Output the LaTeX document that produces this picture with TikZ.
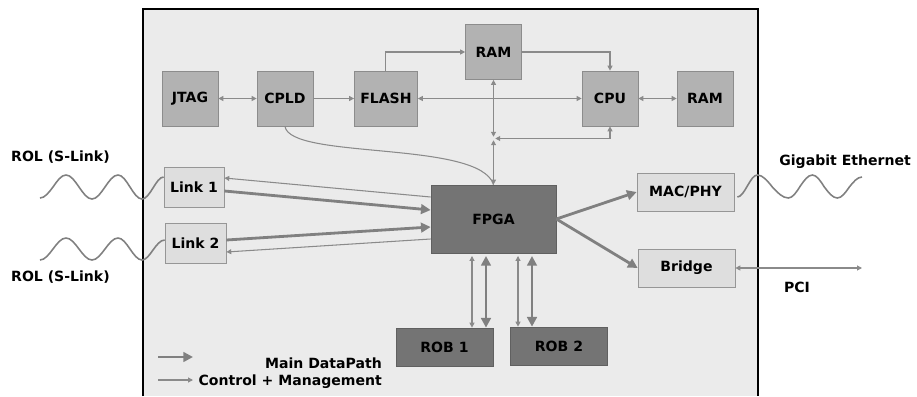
\documentclass[tikz,border=0pt]{standalone}
\usepackage{fontspec}
\setmainfont{DejaVu Sans}
\usepackage{tikz}
\usetikzlibrary{arrows.meta,positioning}

\definecolor{boardfill}{RGB}{235,235,235}
\definecolor{chipfill}{RGB}{178,178,178}
\definecolor{chipline}{RGB}{140,140,140}
\definecolor{portfill}{RGB}{222,222,222}
\definecolor{portline}{RGB}{150,150,150}
\definecolor{corefill}{RGB}{116,116,116}
\definecolor{coreline}{RGB}{96,96,96}
\definecolor{mainline}{RGB}{128,128,128}
\definecolor{ctrlline}{RGB}{138,138,138}

\begin{document}
\begin{tikzpicture}[x=0.02cm,y=-0.02cm,node distance=1.9cm,
font=\fontsize{8}{9.6}\selectfont\bfseries,
chip/.style={
rectangle,
draw=chipline,
fill=chipfill,
minimum width=1.12cm,
minimum height=1.1cm
},
port/.style={
rectangle,
draw=portline,
fill=portfill,
minimum width=1.94cm,
minimum height=0.76cm
},
core/.style={
rectangle,
draw=coreline,
fill=corefill,
minimum width=1.94cm,
minimum height=0.76cm
},
ctrl/.style={->,>={Triangle[length=2.8pt,width=2.8pt]},line width=0.6pt,color=ctrlline},
main/.style={->,>={Triangle[length=5.5pt,width=5.5pt]},line width=1.6pt,color=mainline},
wave/.style={line width=0.9pt,color=mainline}]

\useasboundingbox (0,0) rectangle (917,396);
\fill[boardfill] (143,9) rectangle (758,396);
\draw[line width=1.3pt] (143,396) -- (143,9) -- (758,9) -- (758,396);

\node (jtag) [chip] at (190,98.5) {JTAG};
\node (cpld) [chip,right of=jtag] {CPLD};
\node (flash) [chip,right of=cpld,node distance=2.02cm] {FLASH};
\node (ram1) [chip] at (493.5,52) {RAM};
\node (cpu) [chip] at (610,98.5) {CPU};
\node (ram2) [chip,right of=cpu] {RAM};
\node (link1) [port,minimum width=1.2cm,minimum height=0.8cm] at (194,187) {Link 1};
\node (link2) [port,minimum width=1.22cm,minimum height=0.8cm] at (195.5,243) {Link 2};
\node (fpga) [core,minimum width=2.5cm,minimum height=1.36cm] at (493.5,219) {FPGA};
\node (macphy) [port] at (685.5,192) {MAC/PHY};
\node (bridge) [port] at (686.5,268) {Bridge};
\node (rob1) [core] at (444.5,347) {ROB 1};
\node (rob2) [core] at (559,346) {ROB 2};

\node (rolA) [anchor=west] at (5,157) {ROL (S-Link)};
\node (rolB) [anchor=west] at (5,277) {ROL (S-Link)};
\node (gbe) [anchor=east] at (917,162) {Gigabit Ethernet};
\node (pci) at (797,287) {PCI};

\coordinate (bus) at (493.5,138.5);
\coordinate (rolAend) at (40,198);
\coordinate (rolBend) at (40,260);
\coordinate (gbeend) at (862,177);
\coordinate (pciend) at (862,268);
\coordinate (r1a) at ([xshift=0.55cm]rob1.north);
\coordinate (r1b) at ([xshift=0.83cm]rob1.north);
\coordinate (r2a) at ([xshift=-0.82cm]rob2.north);
\coordinate (r2b) at ([xshift=-0.54cm]rob2.north);

\draw[ctrl,<->] (jtag) -- (cpld);
\draw[ctrl] (cpld) -- (flash);
\draw[ctrl] (flash.north) |- (ram1);
\draw[ctrl] (ram1) -| (cpu);
\draw[ctrl,<->] (flash) -- (cpu);
\draw[ctrl,<->] (cpu) -- (ram2);
\draw[ctrl,<->,shorten >=1pt] (ram1) -- (bus);
\draw[ctrl,<->,shorten >=1pt] (fpga) -- (bus);
\draw[ctrl,<->,shorten >=1pt] (cpu) |- (bus);
\draw[ctrl,-] (cpld.south) .. controls (290,160) and (480,140) .. (fpga.north);

\draw[ctrl] ([yshift=0.44cm]fpga.west) -- ([yshift=0.18cm]link1.east);
\draw[main] ([yshift=-0.08cm]link1.east) -- ([yshift=0.18cm]fpga.west);
\draw[main] ([yshift=0.06cm]link2.east) -- ([yshift=-0.16cm]fpga.west);
\draw[ctrl] ([yshift=-0.4cm]fpga.west) -- ([yshift=-0.18cm]link2.east);

\draw[main] (fpga.east) -- (macphy.west);
\draw[main] (fpga.east) -- (bridge.west);
\draw[ctrl,<->] (bridge) -- (pciend);

\draw[ctrl,<->,shorten >=1.5pt] (r1a) -- (r1a |- fpga.south);
\draw[main,<->,shorten >=1.5pt] (r1b) -- (r1b |- fpga.south);
\draw[ctrl,<->,shorten >=1.5pt] (r2a) -- (r2a |- fpga.south);
\draw[main,<->,shorten >=1.5pt] (r2b) -- (r2b |- fpga.south);

\draw[wave] (rolAend) cos ++(13,-11) sin ++(13,-12) cos ++(13,12) sin ++(13,12)
  cos ++(13,-12) sin ++(13,-12) cos ++(12,12) sin ++(12,12)
  cos ++(11,-11) sin ([yshift=0.2cm]link1.west);
\draw[wave] (rolBend) cos ++(13,-11) sin ++(13,-11) cos ++(13,11) sin ++(13,11)
  cos ++(13,-11) sin ++(13,-11) cos ++(12,11) sin ++(12,11)
  cos ++(11,-10) sin ([yshift=0.06cm]link2.west);
\draw[wave] ([xshift=0.06cm,yshift=-0.1cm]macphy.east) cos ++(10,-11) sin ++(10,-11)
  cos ++(15,12) sin ++(16,11) cos ++(12,-12) sin ++(12,-11)
  cos ++(12,12) sin ++(13,11) cos ++(12,-11) sin (gbeend);

\coordinate (keyA1) at (158,357);
\coordinate (keyA2) at (193,357);
\coordinate (keyB1) at (158,380);
\coordinate (keyB2) at (193,380);
\draw[main] (keyA1) -- (keyA2);
\draw[ctrl] (keyB1) -- (keyB2);
\node (keymain) [anchor=east] at (388,363) {Main DataPath};
\node (keyctrl) [anchor=east] at (388,382) {Control + Management};
\end{tikzpicture}
\end{document}
